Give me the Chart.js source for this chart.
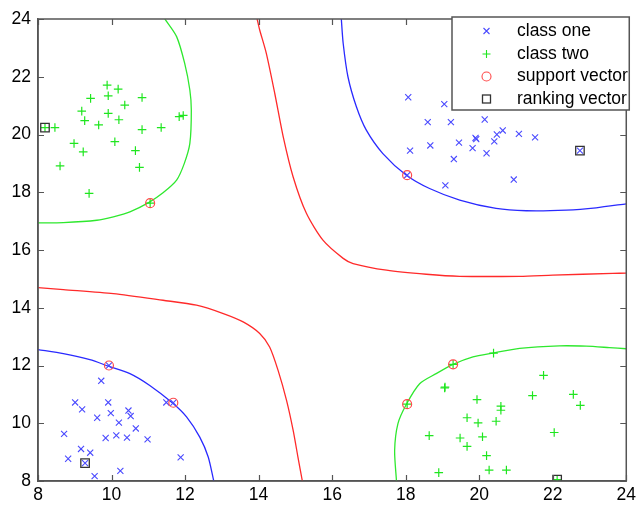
<!DOCTYPE html>
<html>
<head>
<meta charset="utf-8">
<script src="https://cdn.jsdelivr.net/npm/chart.js@4/dist/chart.umd.min.js"></script>
<style>
  html, body { margin: 0; padding: 0; background: #fff; }
  #wrap { width: 640px; height: 506px; }
</style>
</head>
<body>
<div id="wrap"><canvas id="c" width="640" height="506"></canvas></div>
<script>
// ---------- data ----------
const tickValues = [8, 10, 12, 14, 16, 18, 20, 22, 24];

const classOne = [
  // upper-right cluster
  [18.07,21.29],[19.05,21.05],[18.60,20.43],[19.23,20.43],[20.15,20.52],[19.92,19.84],[19.90,19.88],
  [20.48,20.00],[20.64,20.14],[21.08,20.02],[21.52,19.90],[19.45,19.72],[18.67,19.62],[20.41,19.76],
  [19.82,19.53],[18.12,19.44],[20.20,19.35],[19.31,19.15],[22.74,19.44],[18.04,18.59],[19.08,18.24],[20.94,18.44],
  // lower-left cluster
  [9.93,12.00],[9.72,11.47],[9.01,10.72],[9.91,10.72],[9.20,10.48],[11.49,10.72],[11.68,10.71],[9.98,10.35],
  [10.46,10.44],[10.52,10.25],[9.61,10.19],[10.20,10.02],[10.66,9.82],[8.71,9.63],[10.13,9.58],[9.84,9.49],
  [10.42,9.50],[10.98,9.44],[9.17,9.11],[9.42,8.98],[8.82,8.77],[9.28,8.62],[11.88,8.82],[10.24,8.35],[9.54,8.17]
];

const classTwo = [
  // upper-left cluster
  [9.88,21.71],[10.18,21.57],[9.43,21.25],[9.91,21.34],[10.83,21.28],[10.36,21.02],[9.19,20.81],[9.91,20.73],
  [9.27,20.48],[10.20,20.51],[9.65,20.33],[11.84,20.62],[11.95,20.66],[8.46,20.24],[8.19,20.24],[10.83,20.17],
  [11.35,20.24],[8.98,19.69],[10.09,19.75],[9.23,19.40],[10.65,19.44],[8.60,18.91],[10.76,18.86],[9.39,17.96],[11.05,17.62],
  // lower-right cluster
  [20.39,12.43],[19.29,12.04],[18.04,10.66],[19.06,11.22],[19.07,11.25],[21.75,11.66],[22.56,11.00],[22.75,10.62],
  [21.45,10.96],[19.94,10.82],[20.59,10.59],[20.59,10.45],[19.67,10.19],[19.97,10.01],[20.46,10.07],[18.64,9.57],
  [19.48,9.49],[20.09,9.53],[22.04,9.68],[19.67,9.20],[20.20,8.88],[18.90,8.29],[20.27,8.38],[20.74,8.38],[22.12,8.05]
];

const supportVectors = [[11.05,17.62],[18.04,18.59],[9.93,12.00],[11.68,10.71],[18.04,10.66],[19.29,12.04]];
const rankingVectors = [[8.19,20.24],[22.74,19.44],[9.28,8.62],[22.12,8.05]];

// decision boundary (red), class-one margin (blue), class-two margin (green)
const redUpper = [[13.96,24],[14.03,23.62],[14.21,22.81],[14.44,21.42],[14.67,19.92],[14.94,18.53],[15.30,17.27],
  [15.75,16.34],[16.30,15.71],[16.57,15.53],[17.48,15.30],[18.56,15.16],[19.47,15.09],[21.10,15.09],[22.00,15.13],[23.63,15.19],[24,15.20]];
const redLower = [[8,14.70],[8.69,14.63],[10.05,14.49],[11.40,14.26],[12.31,14.09],[13.04,13.80],[13.58,13.51],
  [14.03,13.11],[14.30,12.64],[14.53,11.83],[14.76,10.79],[14.94,9.75],[15.07,8.83],[15.19,8]];
const blueUpper = [[16.25,24],[16.30,23.16],[16.43,22.00],[16.66,20.96],[16.93,20.15],[17.38,19.34],[18.02,18.59],
  [18.65,18.13],[19.47,17.73],[20.46,17.44],[21.28,17.36],[22.37,17.38],[23.18,17.46],[24,17.60]];
const blueLower = [[8,12.55],[8.69,12.41],[9.41,12.20],[9.91,11.98],[10.50,11.72],[11.04,11.31],[11.66,10.70],
  [12.04,10.22],[12.40,9.52],[12.63,8.83],[12.78,8]];
const greenUpper = [[11.45,24],[11.77,23.39],[11.99,22.46],[12.13,21.54],[12.17,20.85],[12.13,19.69],[11.98,19.00],
  [11.77,18.42],[11.40,17.98],[11.02,17.65],[10.50,17.32],[10.05,17.15],[9.60,17.03],[8.69,16.95],[8,16.94]];
const greenLower = [[17.75,8],[17.70,9.06],[17.79,9.99],[18.02,10.66],[18.38,11.37],[18.83,11.72],[19.29,12.04],
  [19.83,12.30],[20.37,12.43],[21.10,12.59],[22.18,12.68],[22.91,12.67],[23.54,12.62],[24,12.58]];

const legendLabels = ['class one', 'class two', 'support vector', 'ranking vector'];

// ---------- styles ----------
const BLUE_LINE = '#2a2aff', RED_LINE = '#ff2a2a', GREEN_LINE = '#2ee82e';
const BLUE_PT = '#4a4aff', GREEN_PT = '#1fe61f', RED_PT = '#ff4a4a', RANK = '#333333';
const FONT = '"Liberation Sans", Arial, sans-serif';
const FRAME = '#555555';

const pts = a => a.map(p => ({x: p[0], y: p[1]}));
function lineDs(arr, color) {
  return { data: pts(arr), showLine: true, borderColor: color, borderWidth: 1.3,
           pointRadius: 0, pointHoverRadius: 0, tension: 0.25, fill: false, order: 10 };
}

const datasets = [
  lineDs(redUpper, RED_LINE), lineDs(redLower, RED_LINE),
  lineDs(blueUpper, BLUE_LINE), lineDs(blueLower, BLUE_LINE),
  lineDs(greenUpper, GREEN_LINE), lineDs(greenLower, GREEN_LINE),
  { label: legendLabels[0], data: pts(classOne), pointStyle: 'crossRot', pointRadius: 4.3,
    borderColor: BLUE_PT, backgroundColor: BLUE_PT, pointBorderWidth: 1.1, showLine: false, order: 4 },
  { label: legendLabels[1], data: pts(classTwo), pointStyle: 'cross', pointRadius: 4.3,
    borderColor: GREEN_PT, backgroundColor: GREEN_PT, pointBorderWidth: 1.2, showLine: false, order: 3 },
  { label: legendLabels[2], data: pts(supportVectors), pointStyle: 'circle', pointRadius: 4.5,
    borderColor: RED_PT, backgroundColor: 'rgba(0,0,0,0)', pointBorderWidth: 1.2, showLine: false, order: 2 },
  { label: legendLabels[3], data: pts(rankingVectors), pointStyle: 'rect', pointRadius: 6,
    borderColor: RANK, backgroundColor: 'rgba(0,0,0,0)', pointBorderWidth: 1.3, showLine: false, order: 1 }
];

// full frame, inward ticks on all four sides, and boxed legend
const matlabAxes = {
  id: 'matlabAxes',
  afterDraw(chart) {
    const ctx = chart.ctx, a = chart.chartArea;
    const xs = chart.scales.x, ys = chart.scales.y;
    ctx.save();
    ctx.strokeStyle = FRAME;
    ctx.lineWidth = 1.5;
    ctx.strokeRect(a.left, a.top, a.right - a.left, a.bottom - a.top);

    ctx.lineWidth = 1.2;
    const TL = 6;
    ctx.beginPath();
    xs.ticks.forEach(t => {
      const px = Math.round(xs.getPixelForValue(t.value)) + 0.5;
      ctx.moveTo(px, a.bottom); ctx.lineTo(px, a.bottom - TL);
      ctx.moveTo(px, a.top); ctx.lineTo(px, a.top + TL);
    });
    ys.ticks.forEach(t => {
      const py = Math.round(ys.getPixelForValue(t.value)) + 0.5;
      ctx.moveTo(a.left, py); ctx.lineTo(a.left + TL, py);
      ctx.moveTo(a.right, py); ctx.lineTo(a.right - TL, py);
    });
    ctx.stroke();

    // legend box
    const L = { left: 452, top: a.top - 2, right: a.right + 3, bottom: 110 };
    ctx.fillStyle = '#fff';
    ctx.fillRect(L.left, L.top, L.right - L.left, L.bottom - L.top);
    ctx.lineWidth = 1.5;
    ctx.strokeStyle = FRAME;
    ctx.strokeRect(L.left, L.top, L.right - L.left, L.bottom - L.top);

    const rows = [31, 54, 76.5, 99];
    const mx = 486.5, tx = 517;
    ctx.font = '17.5px ' + FONT;
    ctx.fillStyle = '#000';
    ctx.textBaseline = 'middle';
    ctx.textAlign = 'left';
    legendLabels.forEach((lab, i) => ctx.fillText(lab, tx, rows[i]));

    ctx.lineWidth = 1.1;
    // class one x
    ctx.strokeStyle = BLUE_PT;
    ctx.beginPath();
    ctx.moveTo(mx - 3, rows[0] - 3); ctx.lineTo(mx + 3, rows[0] + 3);
    ctx.moveTo(mx + 3, rows[0] - 3); ctx.lineTo(mx - 3, rows[0] + 3);
    ctx.stroke();
    // class two +
    ctx.strokeStyle = GREEN_PT;
    ctx.beginPath();
    ctx.moveTo(mx - 4, rows[1]); ctx.lineTo(mx + 4, rows[1]);
    ctx.moveTo(mx, rows[1] - 4); ctx.lineTo(mx, rows[1] + 4);
    ctx.stroke();
    // support vector o
    ctx.strokeStyle = RED_PT;
    ctx.beginPath();
    ctx.arc(mx, rows[2], 4.5, 0, Math.PI * 2);
    ctx.stroke();
    // ranking vector square
    ctx.strokeStyle = RANK;
    ctx.lineWidth = 1.3;
    ctx.strokeRect(mx - 4, rows[3] - 4, 8, 8);
    ctx.restore();
  }
};

new Chart(document.getElementById('c'), {
  type: 'scatter',
  data: { datasets },
  options: {
    responsive: false,
    animation: false,
    events: [],
    layout: { padding: { top: 19, right: 13, left: 0, bottom: 0 } },
    plugins: { legend: { display: false }, tooltip: { enabled: false } },
    scales: {
      x: {
        type: 'linear', min: 8, max: 24,
        afterBuildTicks: s => { s.ticks = tickValues.map(v => ({ value: v })); },
        afterFit: s => { s.height = 25; },
        grid: { display: false, drawTicks: false },
        border: { display: true, color: FRAME, width: 1.5 },
        ticks: { padding: 4, color: '#000', font: { family: FONT, size: 17.5 }, autoSkip: false, maxRotation: 0 }
      },
      y: {
        type: 'linear', min: 8, max: 24,
        afterBuildTicks: s => { s.ticks = tickValues.map(v => ({ value: v })); },
        afterFit: s => { s.width = 38; },
        grid: { display: false, drawTicks: false },
        border: { display: true, color: FRAME, width: 1.5 },
        ticks: { padding: 7, color: '#000', font: { family: FONT, size: 17.5 }, autoSkip: false }
      }
    }
  },
  plugins: [matlabAxes]
});
</script>
</body>
</html>
